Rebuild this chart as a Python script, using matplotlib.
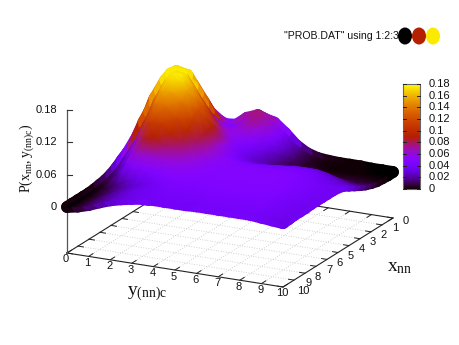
import numpy as np
import matplotlib
matplotlib.use("Agg")
import matplotlib.pyplot as plt
from matplotlib.colors import ListedColormap, Normalize
from matplotlib.collections import LineCollection
from matplotlib.patches import Ellipse

plt.rcParams['font.family'] = ['Liberation Sans Narrow', 'Liberation Sans', 'DejaVu Sans']
plt.rcParams['mathtext.fontset'] = 'custom'
plt.rcParams['mathtext.rm'] = 'Liberation Serif'

# ---- data ----
x_values = np.arange(0, 10.5, 0.5)
y_values = np.arange(0, 10.5, 0.5)
# probability, in thousandths; one row per x value, one column per y value
prob_milli = np.array([
 [ 5,10,18,25,30,34,42,56,62,57,41,22,10, 4, 2, 1, 1, 1, 0, 0, 0],
 [ 9,18,31,42,48,48,50,66,74,66,46,25,11, 4, 2, 1, 1, 1, 1, 0, 0],
 [14,29,49,67,75,60,50,62,74,64,45,26,12, 5, 3, 1, 1, 1, 1, 1, 1],
 [21,44,73,96,98,70,54,58,66,56,39,23,11, 6, 4, 3, 3, 3, 3, 3, 2],
 [29,60,100,130,120,90,68,58,56,45,31,19,11, 7, 6, 5, 5, 5, 5, 5, 5],
 [35,73,122,158,145,116,85,62,48,39,28,19,14,13,13,13,12,10,10, 9, 9],
 [39,83,136,172,168,136,105,75,52,37,28,23,23,26,30,30,30,26,20,15,14],
 [39,84,140,174,176,156,125,88,58,42,34,31,32,34,36,36,36,32,28,23,20],
 [36,78,131,168,172,154,123,88,62,46,40,38,39,40,41,41,40,38,33,29,26],
 [30,67,112,154,156,141,111,85,64,52,46,44,44,44,44,44,43,40,36,33,32],
 [23,52,100,138,135,116,96,78,64,54,49,47,47,47,47,47,46,43,39,37,35],
 [15,40,75,108,110,95,82,70,60,52,49,48,48,48,48,48,47,44,41,38,36],
 [ 9,28,58,85,90,78,72,64,56,51,49,48,48,48,48,48,47,44,41,38,36],
 [ 5,17,45,62,65,62,62,58,53,50,48,48,48,48,48,48,47,44,41,38,36],
 [ 3,12,30,46,50,50,54,53,52,49,47,47,47,47,47,47,46,44,41,38,36],
 [ 1, 6,15,26,34,39,46,48,48,47,46,46,46,46,46,46,45,43,40,38,36],
 [ 0, 5,12,20,27,33,38,42,44,44,44,45,45,45,45,45,44,42,39,37,35],
 [ 0, 4,11,19,26,32,36,40,42,42,42,43,43,43,43,43,43,41,39,37,35],
 [ 0, 4,11,19,26,32,36,38,40,40,40,40,41,41,41,41,41,41,39,37,35],
 [ 0, 4,11,18,25,31,35,37,39,39,39,39,40,40,40,40,40,40,38,36,34],
 [ 0, 4,10,18,25,30,34,37,38,38,38,38,39,39,39,39,39,39,37,35,33],
])
x_ticks = list(range(0, 11))
y_ticks = list(range(0, 11))
z_ticks = [0, 0.06, 0.12, 0.18]
z_tick_labels = ['0', '0.06', '0.12', '0.18']
cb_ticks = [0, 0.02, 0.04, 0.06, 0.08, 0.1, 0.12, 0.14, 0.16, 0.18]
cb_tick_labels = ['0', '0.02', '0.04', '0.06', '0.08', '0.1', '0.12', '0.14', '0.16', '0.18']
legend_label = '"PROB.DAT" using 1:2:3'
legend_levels = [0.0, 0.09, 0.175]
z_max = 0.18

# ---- gnuplot default palette (rgbformulae 7,5,15) ----
g = np.linspace(0, 1, 256)
cmap = ListedColormap(np.c_[np.sqrt(g), g**3, np.clip(np.sin(2*np.pi*g), 0, 1)])
norm = Normalize(0, z_max)

# ---- orthographic view, expressed in figure pixels ----
def project(x, y, z=None):
    x, y = np.asarray(x, float), np.asarray(y, float)
    sx = 67 + 21.6*y + 11.0*(10 - x)
    sy = 253 + 3.4*y - 6.9*(10 - x)
    if z is not None:
        sy = sy - 46 - 539*np.asarray(z, float)
    return sx, sy

fig = plt.figure(figsize=(4.6, 3.45), dpi=100)
ax = fig.add_axes([0, 0, 1, 1])
ax.axis('off')

# base grid
for v in x_ticks[1:-1]:
    ax.plot(*project([v, v], [0, 10]), color='#c4c4c4', lw=0.6, ls=(0, (1, 2)), zorder=1)
for v in y_ticks[1:-1]:
    ax.plot(*project([0, 10], [v, v]), color='#c4c4c4', lw=0.6, ls=(0, (1, 2)), zorder=1)

# base border
ax.plot(*project([10, 10, 0, 0, 10], [0, 10, 10, 0, 0]), color='#222222', lw=0.8, zorder=2)
for v in y_ticks:
    ax.plot(*project([10, 9.6], [v, v]), color='#222222', lw=0.7, zorder=2)
    ax.plot(*project([0, 0.4], [v, v]), color='#222222', lw=0.7, zorder=2)
    sx, sy = project(10, v)
    ax.text(sx - 1, sy + 6.5, str(v), ha='center', va='center', fontsize=8, color='#111111')
for v in x_ticks:
    ax.plot(*project([v, v], [0, 0.25]), color='#222222', lw=0.7, zorder=2)
    ax.plot(*project([v, v], [10, 9.75]), color='#222222', lw=0.7, zorder=2)
    sx, sy = project(v, 10)
    dx = {10: 20, 9: 15}.get(v, 13)
    dy = {10: 4, 9: 2.5}.get(v, 3.5)
    ax.text(sx + dx, sy + dy, str(v), ha='center', va='center', fontsize=8, color='#111111')

# z axis
sx0, sy_base = project(10, 0)
ax.plot([sx0, sx0], [sy_base, project(10, 0, z_max)[1]], color='#555555', lw=0.9, zorder=2)
for v, lab in zip(z_ticks, z_tick_labels):
    sx, sy = project(10, 0, v)
    ax.plot([sx, sx + 5], [sy, sy], color='#333333', lw=0.8, zorder=2)
    ax.text(sx - 10, sy, lab, ha='right', va='center', fontsize=8, color='#111111')

# surface: fat round strokes along the grid lines give the thick rim of the point cloud
Xg, Yg = np.meshgrid(x_values, y_values, indexing='ij')
Zg = prob_milli / 1000.0
SX, SY = project(Xg, Yg, Zg)
P = np.dstack([SX, SY])
seg_a = np.stack([P[:-1, :], P[1:, :]], axis=2).reshape(-1, 2, 2)
seg_b = np.stack([P[:, :-1], P[:, 1:]], axis=2).reshape(-1, 2, 2)
col_a = ((Zg[:-1, :] + Zg[1:, :]) / 2).ravel()
col_b = ((Zg[:, :-1] + Zg[:, 1:]) / 2).ravel()
segs = np.concatenate([seg_a, seg_b])
cols = np.concatenate([col_a, col_b])
order = np.argsort(cols)
rim = LineCollection(segs[order], cmap=cmap, norm=norm,
                     linewidths=8.5, capstyle='round', zorder=3)
rim.set_array(cols[order])
ax.add_collection(rim)
ax.pcolormesh(SX, SY, Zg, cmap=cmap, norm=norm, shading='gouraud', zorder=4)

# colour box
grad = np.linspace(0, z_max, 256)[:, None]
ax.imshow(grad, extent=[403, 420, 189, 84], origin='lower', cmap=cmap, norm=norm, aspect='auto', zorder=3)
ax.plot([403, 420, 420, 403, 403], [84, 84, 189, 189, 84], color='#666666', lw=0.8, zorder=5)
for v, lab in zip(cb_ticks, cb_tick_labels):
    sy = 189 - 105*v/z_max
    ax.plot([403, 406], [sy, sy], color='#222222', lw=0.7, zorder=5)
    ax.plot([417, 420], [sy, sy], color='#222222', lw=0.7, zorder=5)
    ax.text(429, sy, lab, ha='left', va='center', fontsize=8, color='#111111')

# legend
ax.text(399, 36, legend_label, ha='right', va='center', fontsize=7.6, color='#111111', zorder=6)
for cx, lv in zip([405, 419, 433], legend_levels):
    ax.add_patch(Ellipse((cx, 36), 14, 17, facecolor=cmap(norm(lv)), edgecolor='none', zorder=7))

# axis titles
ax.text(147, 294, r'$\mathrm{y_{(nn)c}}$', ha='center', va='center', fontsize=14, color='#111111')
ax.text(400, 267, r'$\mathrm{x_{nn}}$', ha='center', va='center', fontsize=14, color='#111111')
ax.text(27, 158, r'$\mathrm{P(x_{nn},y_{(nn)c})}$', rotation=90, ha='center', va='center', fontsize=10, color='#111111')

ax.set_xlim(0, 460)
ax.set_ylim(345, 0)
fig.savefig('out.png', dpi=100, facecolor='white')
